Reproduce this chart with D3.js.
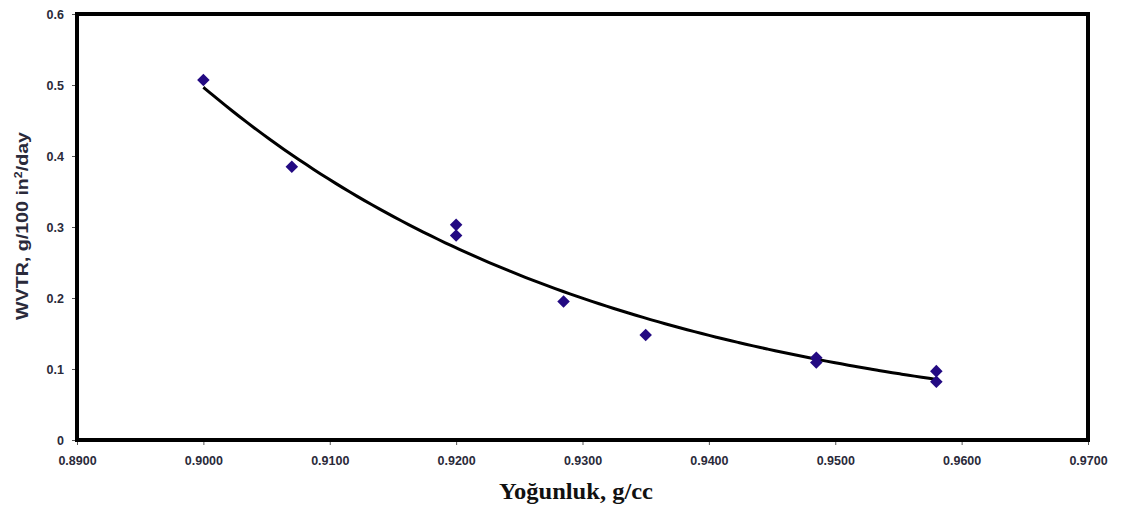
<!DOCTYPE html>
<html>
<head>
<meta charset="utf-8">
<script src="https://cdn.jsdelivr.net/npm/d3@7"></script>
<style>
  html, body { margin: 0; padding: 0; background: #fff; }
  svg { display: block; }
</style>
</head>
<body>
<svg id="chart" width="1121" height="509"></svg>
<script>
// Density (g/cc) vs water vapour transmission rate
const density = [0.9000, 0.9070, 0.9200, 0.9200, 0.9285, 0.9350, 0.9485, 0.9485, 0.9580, 0.9580];
const wvtr    = [0.507, 0.385, 0.303, 0.288, 0.195, 0.148, 0.116, 0.109, 0.097, 0.082];

const xTicks = [0.89, 0.90, 0.91, 0.92, 0.93, 0.94, 0.95, 0.96, 0.97];
const yTicks = [0, 0.1, 0.2, 0.3, 0.4, 0.5, 0.6];

const W = 1121, H = 509;
const m = { left: 77, right: 33, top: 14, bottom: 69 };

const svg = d3.select("#chart");

const x = d3.scaleLinear().domain([0.89, 0.97]).range([m.left, W - m.right]);
const y = d3.scaleLinear().domain([0, 0.6]).range([H - m.bottom, m.top]);

// Exponential least-squares trendline (fit on ln y)
const n = density.length;
const lny = wvtr.map(Math.log);
const mx = d3.mean(density), my = d3.mean(lny);
let sxy = 0, sxx = 0;
for (let i = 0; i < n; i++) {
  sxy += (density[i] - mx) * (lny[i] - my);
  sxx += (density[i] - mx) ** 2;
}
const b = sxy / sxx, a = my - b * mx;
const xMin = d3.min(density), xMax = d3.max(density);
const fit = d3.range(0, 101).map(i => {
  const xv = xMin + (xMax - xMin) * i / 100;
  return [xv, Math.exp(a + b * xv)];
});

// axes
const tickFont = "bold 12.5px 'Liberation Sans', Arial, sans-serif";
const xAxis = d3.axisBottom(x).tickValues(xTicks).tickSize(5).tickPadding(11)
  .tickFormat(d3.format(".4f"));
const yAxis = d3.axisLeft(y).tickValues(yTicks).tickSize(5).tickPadding(8)
  .tickFormat(d => d === 0 ? "0" : d3.format(".1f")(d));

const gx = svg.append("g").attr("transform", `translate(0,${H - m.bottom})`).call(xAxis);
const gy = svg.append("g").attr("transform", `translate(${m.left},0)`).call(yAxis);
[gx, gy].forEach(g => {
  g.select(".domain").remove();
  g.selectAll(".tick line").attr("stroke", "#555").attr("stroke-width", 1);
  g.selectAll(".tick text").style("font", tickFont).attr("fill", "#2a2a3a");
});

// trendline
svg.append("path")
  .datum(fit)
  .attr("fill", "none")
  .attr("stroke", "#000")
  .attr("stroke-width", 3)
  .attr("d", d3.line().x(d => x(d[0])).y(d => y(d[1])).curve(d3.curveBasis));

// diamond markers
const diamond = d3.symbol().type(d3.symbolDiamond2).size(100);
svg.append("g").selectAll("path")
  .data(density.map((d, i) => [d, wvtr[i]]))
  .join("path")
  .attr("transform", d => `translate(${x(d[0])},${y(d[1])})`)
  .attr("d", diamond)
  .attr("fill", "#230a82");

// plot frame
svg.append("rect")
  .attr("x", x(0.89)).attr("y", y(0.6))
  .attr("width", x(0.97) - x(0.89)).attr("height", y(0) - y(0.6))
  .attr("fill", "none").attr("stroke", "#000").attr("stroke-width", 4);

// axis titles
svg.append("text")
  .attr("transform", `translate(28,226) rotate(-90)`)
  .attr("text-anchor", "middle")
  .attr("textLength", 188)
  .attr("lengthAdjust", "spacingAndGlyphs")
  .style("font", "bold 16px 'Liberation Sans', Arial, sans-serif")
  .attr("fill", "#2a2a3a")
  .html('WVTR, g/100 in<tspan dy="-6" font-size="10">2</tspan><tspan dy="6">/day</tspan>');

svg.append("text")
  .attr("x", 576).attr("y", 499)
  .attr("text-anchor", "middle")
  .attr("textLength", 154)
  .attr("lengthAdjust", "spacingAndGlyphs")
  .style("font", "bold 23px 'Liberation Serif', 'Times New Roman', serif")
  .attr("fill", "#111")
  .text("Yoğunluk, g/cc");
</script>
</body>
</html>
